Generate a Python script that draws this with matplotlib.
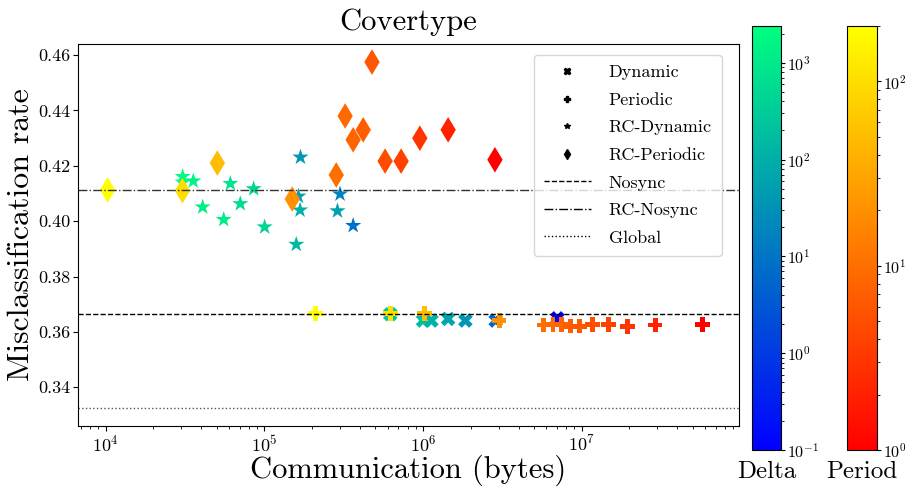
import matplotlib
matplotlib.use("Agg")
import matplotlib.pyplot as plt
from matplotlib.colors import LogNorm
from matplotlib.cm import ScalarMappable
from matplotlib.lines import Line2D

# Computer Modern look for all text
plt.rcParams['font.family'] = 'serif'
plt.rcParams['font.serif'] = ['cmr10']
plt.rcParams['mathtext.fontset'] = 'cm'
plt.rcParams['axes.formatter.use_mathtext'] = True
plt.rcParams['axes.unicode_minus'] = False


# =============================================================================
# DATA
# =============================================================================

# Dynamic averaging (colour = delta)
dyn_comm = [6.22e5, 1.00e6, 1.13e6, 1.44e6, 1.85e6, 2.87e6, 7.03e6]
dyn_err = [0.3664, 0.3641, 0.3641, 0.3647, 0.3641, 0.3641, 0.3649]
dyn_delta = [270, 190, 120, 70, 38, 5, 0.1]

# Periodic averaging (colour = period)
per_comm = [2.11e5, 6.22e5, 1.02e6, 3.02e6, 5.77e6, 6.6e6, 7.42e6, 8.5e6,
            9.7e6, 1.17e7, 1.48e7, 1.95e7, 2.9e7, 5.75e7]
per_err = [0.3666, 0.3666, 0.3666, 0.3641, 0.3625, 0.3626, 0.3626, 0.3621,
           0.3621, 0.3626, 0.3626, 0.3620, 0.3625, 0.3626]
per_period = [200, 100, 50, 20, 10, 9, 8, 7, 6, 5, 4, 3, 2, 1]

# RC-Dynamic (colour = delta)
rcdyn_comm = [3.06e4, 3.06e4, 3.57e4, 4.09e4, 5.55e4, 6.11e4, 7.06e4, 8.57e4,
              1.005e5, 1.59e5, 1.64e5, 1.68e5, 1.69e5, 2.89e5, 3.00e5, 3.63e5]
rcdyn_err = [0.4161, 0.4141, 0.4145, 0.4051, 0.4006, 0.4136, 0.4063, 0.4117,
             0.3979, 0.3916, 0.4090, 0.4040, 0.4231, 0.4037, 0.4098, 0.3984]
rcdyn_delta = [2400, 2000, 1500, 1200, 1000, 800, 600, 500,
               400, 150, 55, 100, 38, 55, 17, 8]

# RC-Periodic (colour = period)
rcper_comm = [1.03e4, 3.05e4, 5.06e4, 1.50e5, 2.84e5, 3.23e5, 3.63e5, 4.20e5,
              4.77e5, 5.77e5, 7.28e5, 9.55e5, 1.44e6, 2.84e6]
rcper_err = [0.4113, 0.4110, 0.4210, 0.4080, 0.4167, 0.4380, 0.4294, 0.4330,
             0.4575, 0.4217, 0.4217, 0.4300, 0.4330, 0.4222]
rcper_period = [200, 100, 50, 20, 10, 9, 8, 7, 6, 5, 4, 3, 2, 1]

# Baselines
nosync_err = 0.3665
rc_nosync_err = 0.4113
global_err = 0.3325

delta_range = (0.1, 2400)
period_range = (1, 200)


# =============================================================================
# FIGURE
# =============================================================================

fig = plt.figure(figsize=(9.09, 4.92), dpi=100)
ax = fig.add_axes([0.0858, 0.1341, 0.7272, 0.7764])

delta_norm = LogNorm(*delta_range)
period_norm = LogNorm(*period_range)
delta_cmap = plt.get_cmap('winter')
period_cmap = plt.get_cmap('autumn')

ax.scatter(dyn_comm, dyn_err, c=dyn_delta, cmap=delta_cmap, norm=delta_norm,
           marker='X', s=110, linewidths=0)
ax.scatter(per_comm, per_err, c=per_period, cmap=period_cmap, norm=period_norm,
           marker='P', s=110, linewidths=0)
ax.scatter(rcdyn_comm, rcdyn_err, c=rcdyn_delta, cmap=delta_cmap, norm=delta_norm,
           marker='*', s=150, linewidths=0)
ax.scatter(rcper_comm, rcper_err, c=rcper_period, cmap=period_cmap, norm=period_norm,
           marker='d', s=170, linewidths=0)

ax.axhline(nosync_err, color='k', linestyle='--', linewidth=1)
ax.axhline(rc_nosync_err, color='#333333', linestyle='-.', linewidth=1)
ax.axhline(global_err, color='#555555', linestyle=':', linewidth=1)

ax.set_xscale('log')
ax.set_xlim(6.7e3, 9.8e7)
ax.set_ylim(0.326, 0.464)
ax.set_yticks([0.34, 0.36, 0.38, 0.40, 0.42, 0.44, 0.46])
ax.set_yticklabels(['0.34', '0.36', '0.38', '0.40', '0.42', '0.44', '0.46'])
ax.tick_params(labelsize=13, pad=2)

ax.set_title('Covertype', fontsize=22, pad=10)
ax.set_xlabel('Communication (bytes)', fontsize=22, labelpad=0)
ax.set_ylabel('Misclassification rate', fontsize=23, labelpad=2)

# Legend with small black proxies
handles = [
    Line2D([], [], color='k', marker='X', linestyle='none', markersize=5),
    Line2D([], [], color='k', marker='P', linestyle='none', markersize=5),
    Line2D([], [], color='k', marker='*', linestyle='none', markersize=4),
    Line2D([], [], color='k', marker='d', linestyle='none', markersize=5),
    Line2D([], [], color='k', linestyle='--', linewidth=1),
    Line2D([], [], color='k', linestyle='-.', linewidth=1),
    Line2D([], [], color='k', linestyle=':', linewidth=1),
]
labels = ['Dynamic', 'Periodic', 'RC-Dynamic', 'RC-Periodic',
          'Nosync', 'RC-Nosync', 'Global']
ax.legend(handles, labels, loc='upper right', bbox_to_anchor=(0.974, 0.972),
          borderaxespad=0, fontsize=13, handlelength=2.6, labelspacing=0.66,
          handletextpad=1.0, borderpad=0.55)

# Colour bars
cax_delta = fig.add_axes([0.8273, 0.0854, 0.0319, 0.8618])
cb_delta = fig.colorbar(ScalarMappable(norm=delta_norm, cmap=delta_cmap), cax=cax_delta)
cb_delta.ax.tick_params(labelsize=11.5, pad=1.5, length=3)
cb_delta.ax.tick_params(which='minor', length=2)
cb_delta.ax.set_xlabel('Delta', fontsize=18, labelpad=8)

cax_period = fig.add_axes([0.932, 0.0854, 0.033, 0.8618])
cb_period = fig.colorbar(ScalarMappable(norm=period_norm, cmap=period_cmap), cax=cax_period)
cb_period.ax.tick_params(labelsize=11.5, pad=1.5, length=3)
cb_period.ax.tick_params(which='minor', length=2)
cb_period.ax.set_xlabel('Period', fontsize=18, labelpad=8)

fig.savefig('out.png', dpi=100)
